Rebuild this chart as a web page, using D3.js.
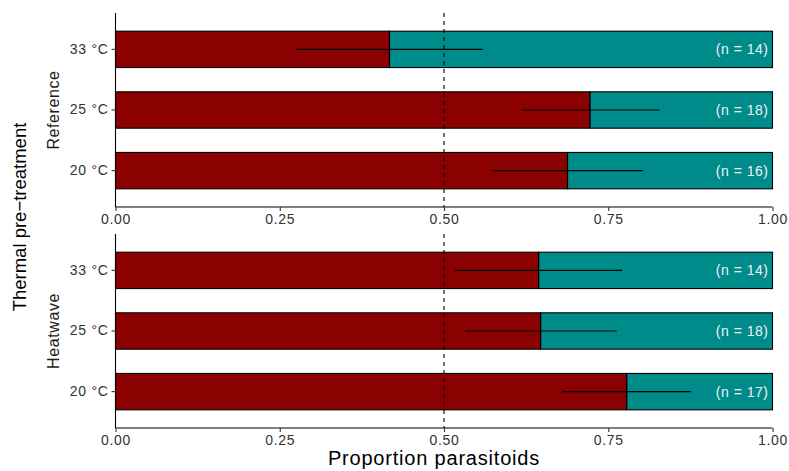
<!DOCTYPE html>
<html>
<head>
<meta charset="utf-8">
<script src="https://cdn.jsdelivr.net/npm/d3@7"></script>
<style>
  body { margin: 0; background: #fff; }
  text { font-family: "Liberation Sans", Arial, sans-serif; }
</style>
</head>
<body>
<script>
// categories
const temps = ["33 °C", "25 °C", "20 °C"];
const treatments = ["Reference", "Heatwave"];
// proportion parasitoids, with error bar ends
const refProp = [0.417, 0.722, 0.688];
const refLow = [0.275, 0.618, 0.572];
const refHigh = [0.559, 0.828, 0.803];
const refN = [14, 18, 16];
const hwProp = [0.644, 0.647, 0.778];
const hwLow = [0.516, 0.532, 0.680];
const hwHigh = [0.771, 0.763, 0.876];
const hwN = [14, 18, 17];
const xTicks = [0, 0.25, 0.5, 0.75, 1];

function drawChart() {
  var w = 789, h = 471;
  var left = 115.5, right = 772.5;
  var panelTops = [13, 234];
  var panelH = 194;

  var svg = d3.select("body").append("svg")
    .attr("width", w)
    .attr("height", h);

  var xScale = d3.scaleLinear().domain([0, 1]).range([left, right]);

  var panels = [
    { name: treatments[0], prop: refProp, lo: refLow, hi: refHigh, n: refN },
    { name: treatments[1], prop: hwProp, lo: hwLow, hi: hwHigh, n: hwN }
  ];

  panels.forEach(function(p, k) {
    var top = panelTops[k];
    var yScale = d3.scaleBand()
      .domain(temps)
      .range([top, top + panelH])
      .paddingInner(0.4)
      .paddingOuter(0.3);

    var rows = temps.map(function(t, i) {
      return { t: t, p: p.prop[i], lo: p.lo[i], hi: p.hi[i], n: p.n[i] };
    });

    var g = svg.append("g");

    // remainder (teal) bar
    g.selectAll(".rest").data(rows).enter().append("rect")
      .attr("x", d => xScale(d.p))
      .attr("y", d => yScale(d.t))
      .attr("width", d => xScale(1) - xScale(d.p))
      .attr("height", yScale.bandwidth())
      .attr("fill", "#008B8B")
      .attr("stroke", "#000")
      .attr("stroke-width", 1.1);

    // parasitoid proportion (dark red)
    g.selectAll(".prop").data(rows).enter().append("rect")
      .attr("x", xScale(0))
      .attr("y", d => yScale(d.t))
      .attr("width", d => xScale(d.p) - xScale(0))
      .attr("height", yScale.bandwidth())
      .attr("fill", "#8B0000")
      .attr("stroke", "#000")
      .attr("stroke-width", 1.1);

    // dashed line at 0.5
    g.append("line")
      .attr("x1", xScale(0.5)).attr("x2", xScale(0.5))
      .attr("y1", top).attr("y2", top + panelH)
      .attr("stroke", "#000")
      .attr("stroke-width", 1.1)
      .attr("stroke-dasharray", "4,4");

    // error bars
    g.selectAll(".err").data(rows).enter().append("line")
      .attr("x1", d => xScale(d.lo))
      .attr("x2", d => xScale(d.hi))
      .attr("y1", d => yScale(d.t) + yScale.bandwidth() / 2)
      .attr("y2", d => yScale(d.t) + yScale.bandwidth() / 2)
      .attr("stroke", "#000")
      .attr("stroke-width", 1.2);

    // sample sizes
    g.selectAll(".nlab").data(rows).enter().append("text")
      .attr("x", xScale(1) - 4)
      .attr("y", d => yScale(d.t) + yScale.bandwidth() / 2)
      .attr("dy", "0.35em")
      .attr("text-anchor", "end")
      .attr("font-size", "14px")
      .attr("letter-spacing", "0.5px")
      .attr("fill", "#f2f2f2")
      .text(d => "(n = " + d.n + ")");

    // axes
    var xAxis = d3.axisBottom(xScale)
      .tickValues(xTicks)
      .tickSize(4)
      .tickPadding(3)
      .tickFormat(d3.format(".2f"));
    var yAxis = d3.axisLeft(yScale)
      .tickSize(4)
      .tickPadding(3);

    var gx = svg.append("g")
      .attr("transform", "translate(0," + (top + panelH) + ")")
      .call(xAxis);
    var gy = svg.append("g")
      .attr("transform", "translate(" + left + ",0)")
      .call(yAxis);

    [gx, gy].forEach(function(a) {
      a.select(".domain").attr("stroke", "#000").attr("stroke-width", 1.1);
      a.selectAll(".tick line").attr("stroke", "#333").attr("stroke-width", 1.1);
      a.selectAll(".tick text")
        .attr("font-family", "Liberation Sans, Arial, sans-serif")
        .attr("font-size", "14px")
        .attr("letter-spacing", "0.7px")
        .attr("fill", "#333");
    });
    // domain lines without end ticks
    gx.select(".domain").attr("d", "M" + left + ",0H" + right);
    gy.select(".domain").attr("d", "M0," + top + "V" + (top + panelH));

    // strip label on the left
    svg.append("text")
      .attr("transform", "translate(59," + (top + panelH / 2) + ") rotate(-90)")
      .attr("text-anchor", "middle")
      .attr("font-size", "16px")
      .attr("letter-spacing", "0.6px")
      .attr("fill", "#1a1a1a")
      .text(p.name);
  });

  // axis titles
  svg.append("text")
    .attr("x", 434)
    .attr("y", 465)
    .attr("text-anchor", "middle")
    .attr("font-size", "20px")
    .attr("letter-spacing", "0.8px")
    .attr("fill", "#000")
    .text("Proportion parasitoids");

  svg.append("text")
    .attr("transform", "translate(26,217) rotate(-90)")
    .attr("text-anchor", "middle")
    .attr("font-size", "18.5px")
    .attr("fill", "#000")
    .text("Thermal pre\u2212treatment");
}

window.onload = function() {
  drawChart();
};
</script>
</body>
</html>
